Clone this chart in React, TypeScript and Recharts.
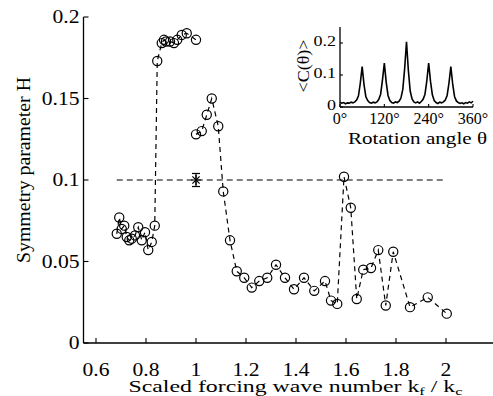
import React from 'react';
import {
  ComposedChart,
  LineChart,
  Line,
  Scatter,
  XAxis,
  YAxis,
  ReferenceLine,
  ErrorBar,
  Label,
} from 'recharts';

// lower cluster, jump, upper cluster (one dashed branch)
const branchAX = [0.683, 0.693, 0.703, 0.713, 0.723, 0.733, 0.743, 0.756, 0.769, 0.783, 0.796, 0.809, 0.823, 0.835, 0.845, 0.863, 0.872, 0.88, 0.896, 0.912, 0.925, 0.943, 0.963, 1.0];
const branchAH = [0.067, 0.077, 0.07, 0.072, 0.065, 0.063, 0.064, 0.066, 0.071, 0.063, 0.068, 0.057, 0.062, 0.072, 0.173, 0.184, 0.186, 0.185, 0.185, 0.184, 0.186, 0.189, 0.19, 0.186];

// second branch, k_f/k_c >= 1
const branchBX = [1.0, 1.023, 1.043, 1.063, 1.089, 1.109, 1.136, 1.163, 1.193, 1.223, 1.253, 1.285, 1.32, 1.356, 1.392, 1.432, 1.473, 1.516, 1.54, 1.565, 1.592, 1.619, 1.643, 1.669, 1.7, 1.729, 1.759, 1.789, 1.856, 1.927, 2.003];
const branchBH = [0.128, 0.13, 0.14, 0.15, 0.133, 0.093, 0.063, 0.044, 0.04, 0.034, 0.038, 0.04, 0.048, 0.04, 0.033, 0.04, 0.032, 0.038, 0.026, 0.024, 0.102, 0.083, 0.027, 0.045, 0.046, 0.057, 0.023, 0.056, 0.022, 0.028, 0.018];

const starX = [1.0];
const starH = [0.1];
const starErr = [0.004];

const refLineX = [0.683, 1.99];
const refLineH = 0.1;

const xTicks = [0.6, 0.8, 1, 1.2, 1.4, 1.6, 1.8, 2];
const yTicks = [0, 0.05, 0.1, 0.15, 0.2];

// inset: <C(theta)> vs rotation angle
const insetAngle = [0, 5, 10, 15, 20, 25, 30, 35, 40, 45, 50, 55, 60, 65, 70, 75, 80, 85, 90, 95, 100, 105, 110, 115, 120, 125, 130, 135, 140, 145, 150, 155, 160, 165, 170, 175, 180, 185, 190, 195, 200, 205, 210, 215, 220, 225, 230, 235, 240, 245, 250, 255, 260, 265, 270, 275, 280, 285, 290, 295, 300, 305, 310, 315, 320, 325, 330, 335, 340, 345, 350, 355, 360];
const insetC = [0.015, 0.012, 0.014, 0.01, 0.013, 0.012, 0.015, 0.013, 0.016, 0.022, 0.035, 0.075, 0.126, 0.07, 0.032, 0.02, 0.014, 0.012, 0.015, 0.013, 0.016, 0.024, 0.04, 0.085, 0.137, 0.078, 0.036, 0.02, 0.014, 0.012, 0.016, 0.014, 0.018, 0.028, 0.055, 0.12, 0.204, 0.115, 0.05, 0.025, 0.016, 0.013, 0.016, 0.012, 0.017, 0.024, 0.04, 0.082, 0.137, 0.08, 0.038, 0.02, 0.014, 0.011, 0.015, 0.013, 0.016, 0.022, 0.036, 0.075, 0.126, 0.072, 0.033, 0.019, 0.014, 0.011, 0.013, 0.01, 0.014, 0.012, 0.016, 0.013, 0.018];
const insetXTicks = [0, 120, 240, 360];
const insetYTicks = [0, 0.1, 0.2];

const branchA = branchAX.map((x, i) => ({ x, y: branchAH[i] }));
const branchB = branchBX.map((x, i) => ({ x, y: branchBH[i] }));
const star = starX.map((x, i) => ({ x, y: starH[i], err: starErr[i] }));
const insetData = insetAngle.map((a, i) => ({ angle: a, c: insetC[i] }));

const FONT = "'Liberation Serif', 'Times New Roman', Tinos, serif";
const INSET_LEFT = 280;

const fmtX = (v: number) => (Number.isInteger(v) ? String(v) : v.toFixed(1));
const fmtY = (v: number) => String(v);

const dashed = { stroke: '#000', strokeWidth: 1.2, strokeDasharray: '5 4' };

const Ring = (props: any) => (
  <circle cx={props.cx} cy={props.cy} r={4.6} fill="none" stroke="#000" strokeWidth={1.2} />
);

const Star = (props: any) => {
  const { cx, cy } = props;
  const s = 5;
  return (
    <g stroke="#000" strokeWidth={1.2}>
      <line x1={cx - s} y1={cy} x2={cx + s} y2={cy} />
      <line x1={cx} y1={cy - s} x2={cx} y2={cy + s} />
      <line x1={cx - 3.6} y1={cy - 3.6} x2={cx + 3.6} y2={cy + 3.6} />
      <line x1={cx - 3.6} y1={cy + 3.6} x2={cx + 3.6} y2={cy - 3.6} />
    </g>
  );
};

// inward tick + label below, label stretched sideways like the source figure
const bottomTick = (len: number, dy: number, size: number, sx: number, fmt: (v: number) => string) => (props: any) => {
  const { x, y, payload } = props;
  return (
    <g>
      <line x1={x} y1={y} x2={x} y2={y - len} stroke="#000" strokeWidth={1.1} />
      <text
        transform={`translate(${x} ${y + dy}) scale(${sx} 1)`}
        textAnchor="middle"
        fontSize={size}
        fontFamily={FONT}
        fill="#000"
      >
        {fmt(payload.value)}
      </text>
    </g>
  );
};

const leftTick = (len: number, size: number, sx: number, base: number, fmt: (v: number) => string) => (props: any) => {
  const { x, y, payload } = props;
  return (
    <g>
      <line x1={x} y1={y} x2={x + len} y2={y} stroke="#000" strokeWidth={1.1} />
      <text
        transform={`translate(${x - 4} ${y + size * base}) scale(${sx} 1)`}
        textAnchor="end"
        fontSize={size}
        fontFamily={FONT}
        fill="#000"
      >
        {fmt(payload.value)}
      </text>
    </g>
  );
};

const topTick = (len: number) => (props: any) => (
  <line x1={props.x} y1={props.y} x2={props.x} y2={props.y + len} stroke="#000" strokeWidth={1.1} />
);

const rightTick = (len: number) => (props: any) => (
  <line x1={props.x} y1={props.y} x2={props.x - len} y2={props.y} stroke="#000" strokeWidth={1.1} />
);

const XTitle = (props: any) => {
  const vb = props.viewBox;
  return (
    <text
      x={vb.x + 45}
      y={vb.y + 49}
      fontSize={16}
      fontFamily={FONT}
      fill="#000"
      textLength={334}
      lengthAdjust="spacingAndGlyphs"
    >
      Scaled forcing wave  number k
      <tspan dy={3} fontSize={11}>f</tspan>
      <tspan dy={-3}> / k</tspan>
      <tspan dy={3} fontSize={11}>c</tspan>
    </text>
  );
};

const YTitle = (props: any) => {
  const vb = props.viewBox;
  const bx = 30;
  const cy = vb.y + vb.height / 2 - 10;
  return (
    <text
      x={bx}
      y={cy}
      transform={`rotate(-90 ${bx} ${cy})`}
      textAnchor="middle"
      fontSize={19}
      fontFamily={FONT}
      fill="#000"
      textLength={186}
      lengthAdjust="spacingAndGlyphs"
    >
      Symmetry parameter H
    </text>
  );
};

const InsetXTitle = (props: any) => {
  const vb = props.viewBox;
  return (
    <text
      x={vb.x + 8}
      y={vb.y + 37}
      fontSize={16}
      fontFamily={FONT}
      fill="#000"
      textLength={139}
      lengthAdjust="spacingAndGlyphs"
    >
      Rotation angle θ
    </text>
  );
};

const InsetYTitle = () => {
  const bx = 309 - INSET_LEFT;
  const cy = 66;
  return (
    <text
      x={bx}
      y={cy}
      transform={`rotate(-90 ${bx} ${cy})`}
      textAnchor="middle"
      fontSize={16}
      fontFamily={FONT}
      fill="#000"
      textLength={53}
      lengthAdjust="spacingAndGlyphs"
    >
      {'<C(θ)>'}
    </text>
  );
};

export default function App() {
  return (
    <div
      style={{
        position: 'absolute',
        left: 0,
        top: 0,
        width: 493,
        height: 396,
        overflow: 'hidden',
        background: '#fff',
        fontFamily: FONT,
      }}
    >
      <ComposedChart width={500} height={396} margin={{ top: 17, right: 4, bottom: 0, left: 0 }}>
        <XAxis
          dataKey="x"
          type="number"
          domain={[0.55, 2.2]}
          ticks={xTicks}
          allowDataOverflow
          height={53}
          tickSize={0}
          tickMargin={0}
          tickLine={false}
          axisLine={{ stroke: '#000', strokeWidth: 1.3 }}
          tick={bottomTick(5, 33, 18, 1.2, fmtX)}
        >
          <Label content={XTitle} />
        </XAxis>
        <XAxis
          xAxisId="top"
          orientation="top"
          dataKey="x"
          type="number"
          domain={[0.55, 2.2]}
          ticks={xTicks}
          allowDataOverflow
          height={0}
          tickSize={0}
          tickMargin={0}
          tickLine={false}
          axisLine={{ stroke: '#000', strokeWidth: 1.3 }}
          tick={topTick(5)}
        />
        <YAxis
          dataKey="y"
          type="number"
          domain={[0, 0.2]}
          ticks={yTicks}
          width={83.5}
          tickSize={0}
          tickMargin={0}
          tickLine={false}
          axisLine={{ stroke: '#000', strokeWidth: 1.3 }}
          tick={leftTick(5, 18, 1.2, 0.34, fmtY)}
        >
          <Label content={YTitle} />
        </YAxis>
        <ReferenceLine
          segment={[
            { x: refLineX[0], y: refLineH },
            { x: refLineX[1], y: refLineH },
          ]}
          stroke="#000"
          strokeWidth={1.2}
          strokeDasharray="6 4"
        />
        <Scatter data={branchA} line={dashed} shape={Ring} isAnimationActive={false} />
        <Scatter data={branchB} line={dashed} shape={Ring} isAnimationActive={false} />
        <Scatter data={star} shape={Star} isAnimationActive={false}>
          <ErrorBar dataKey="err" direction="y" width={4} stroke="#000" strokeWidth={1.2} />
        </Scatter>
      </ComposedChart>

      <div style={{ position: 'absolute', left: INSET_LEFT, top: 0 }}>
        <LineChart width={213} height={150} data={insetData} margin={{ top: 27, right: 20, bottom: 0, left: 0 }}>
          <XAxis
            dataKey="angle"
            type="number"
            domain={[0, 360]}
            ticks={insetXTicks}
            height={43}
            tickSize={0}
            tickMargin={0}
            tickLine={false}
            axisLine={{ stroke: '#000', strokeWidth: 1.3 }}
            tick={bottomTick(3, 17, 16, 1, (v) => `${v}°`)}
          >
            <Label content={InsetXTitle} />
          </XAxis>
          <XAxis
            xAxisId="top"
            orientation="top"
            dataKey="angle"
            type="number"
            domain={[0, 360]}
            ticks={insetXTicks}
            height={0}
            tickSize={0}
            tickLine={false}
            axisLine={{ stroke: '#000', strokeWidth: 1.3 }}
            tick={topTick(3)}
          />
          <YAxis
            type="number"
            domain={[0, 0.25]}
            ticks={insetYTicks}
            width={60}
            tickSize={0}
            tickMargin={0}
            tickLine={false}
            axisLine={{ stroke: '#000', strokeWidth: 1.3 }}
            tick={leftTick(3, 15, 1.2, 0.2, fmtY)}
          >
            <Label content={InsetYTitle} />
          </YAxis>
          <YAxis
            yAxisId="right"
            orientation="right"
            type="number"
            domain={[0, 0.25]}
            ticks={insetYTicks}
            width={0}
            tickSize={0}
            tickLine={false}
            axisLine={{ stroke: '#000', strokeWidth: 1.3 }}
            tick={rightTick(3)}
          />
          <Line
            type="linear"
            dataKey="c"
            stroke="#000"
            strokeWidth={1.6}
            dot={false}
            isAnimationActive={false}
          />
        </LineChart>
      </div>
    </div>
  );
}
